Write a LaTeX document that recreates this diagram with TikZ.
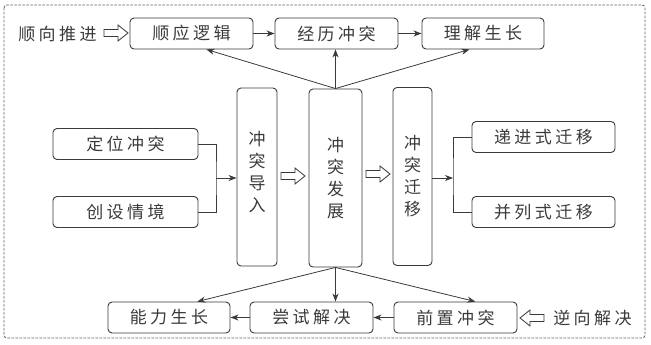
\documentclass[tikz,border=0pt]{standalone}
\usepackage{fontspec}
\newfontfamily\cjk{Noto Sans CJK SC}
\usetikzlibrary{arrows.meta,calc}
\newcommand{\gs}{\hspace{3.5pt}}
\definecolor{ink}{HTML}{3A3A3A}
\begin{document}
\begin{tikzpicture}[x=1pt,y=-1pt,
  every node/.style={font=\cjk\fontsize{17}{22}\selectfont, text=ink, inner sep=0pt},
  box/.style={draw=ink, line width=0.9pt, rounded corners=4pt, minimum width=123pt, minimum height=31pt},
  vbox/.style={draw=ink, line width=0.9pt, rounded corners=4pt, minimum height=178pt, align=center},
  conn/.style={draw=ink, line width=0.8pt},
  arr/.style={conn, -{Stealth[length=8pt,width=6pt,inset=2.5pt]}},
  harrow/.pic={\draw[draw=ink, line width=0.8pt, fill=white] (0,-3.5) -- (14,-3.5) -- (14,-8) -- (24,0) -- (14,8) -- (14,3.5) -- (0,3.5) -- cycle;}
]
\useasboundingbox (0,0) rectangle (651,345);
\draw[ink!80, line width=0.8pt, dash pattern=on 2.5pt off 1.5pt, rounded corners=3pt] (4,5) rectangle (645,338);

% top row
\node[box] (shun) at (191.5,33.5) {顺\gs 应\gs 逻\gs 辑};
\node[box] (jingli) at (336.5,33.5) {经\gs 历\gs 冲\gs 突};
\node[box, minimum width=122pt] (lijie) at (483,33.5) {理\gs 解\gs 生\gs 长};
\node (shunxiang) at (57.5,34) {顺\gs 向\gs 推\gs 进};
\pic at (104,33) {harrow};

% left
\node[box, minimum width=145pt] (dingwei) at (125.5,144) {定\gs 位\gs 冲\gs 突};
\node[box, minimum width=145pt] (chuangshe) at (125.5,212) {创\gs 设\gs 情\gs 境};

% verticals
\node[vbox, minimum width=40pt] (daoru) at (257,177) {};
\node[align=center] (daorutxt) at (257,172) {冲\\突\\导\\入};
\node[vbox, minimum width=53pt] (fazhan) at (335.5,178) {冲\\突\\发\\展};
\node[vbox, minimum width=39pt] (qianyi) at (412.5,176.5) {冲\\突\\迁\\移};

% right
\node[box, minimum width=143pt] (dijin) at (543.5,137) {递\gs 进\gs 式\gs 迁\gs 移};
\node[box, minimum width=143pt] (binglie) at (543.5,212) {并\gs 列\gs 式\gs 迁\gs 移};

% bottom row
\node[box, minimum width=122pt] (nengli) at (169,317.5) {能\gs 力\gs 生\gs 长};
\node[box] (changshi) at (311.5,317.5) {尝\gs 试\gs 解\gs 决};
\node[box] (qianzhi) at (455.5,317.5) {前\gs 置\gs 冲\gs 突};
\node (nixiang) at (592.5,318) {逆\gs 向\gs 解\gs 决};
\pic[xscale=-1] at (544,318) {harrow};

% hollow arrows between verticals
\pic at (281,176) {harrow};
\pic at (366,174) {harrow};

% top horizontal arrows
\draw[arr] (shun) -- (jingli);
\draw[arr] (jingli) -- (lijie);
% bottom horizontal arrows
\draw[arr] (qianzhi) -- (changshi);
\draw[arr] (changshi) -- (nengli);

% fan out from fazhan
\coordinate (ft) at (fazhan.north);
\coordinate (fb) at (fazhan.south);
\draw[arr] (ft) -- ($(shun.south west)!0.62!(shun.south east)$);
\draw[arr] (ft) -- (ft |- jingli.south);
\draw[arr] (ft) -- ($(lijie.south west)!0.39!(lijie.south east)$);
\draw[arr] (fb) -- ($(nengli.north west)!0.73!(nengli.north east)$);
\draw[arr] (fb) -- (fb |- changshi.north);
\draw[arr] (fb) -- ($(qianzhi.north west)!0.66!(qianzhi.north east)$);

% left bracket
\coordinate (lb) at (216,178);
\draw[conn] (dingwei.east) -| (lb) |- (chuangshe.east);
\draw[arr] (lb) -- (lb -| daoru.west);

% right bracket
\coordinate (rb) at (453,178);
\draw[arr] (qianyi.east |- rb) -- (rb);
\draw[conn] (dijin.west) -| (rb) |- (binglie.west);
\end{tikzpicture}
\end{document}
